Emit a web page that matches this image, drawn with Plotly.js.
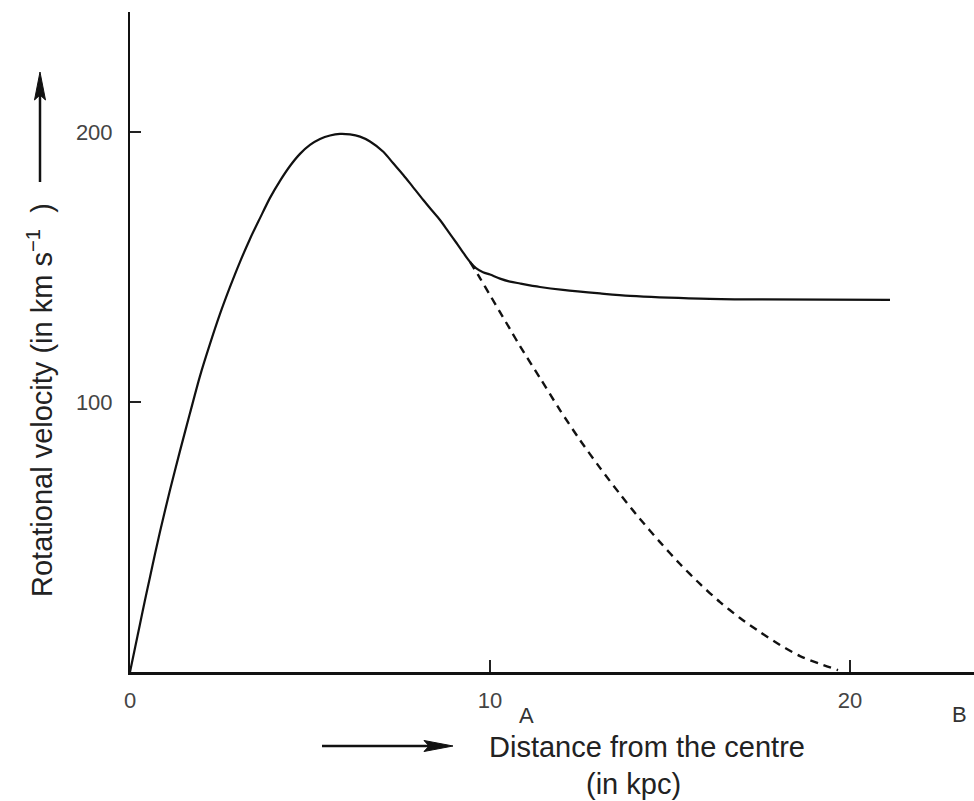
<!DOCTYPE html>
<html>
<head>
<meta charset="utf-8">
<script src="https://cdn.plot.ly/plotly-3.0.1.min.js"></script>
<style>html,body{margin:0;padding:0;background:#fff;}#chart{width:974px;height:801px;}</style>
</head>
<body>
<div id="chart"></div>
<script>
// Observed rotation curve (solid): distance (kpc), velocity (km/s)
const observedR = [0, 0.139, 0.278, 0.417, 0.556, 0.694, 0.833, 1.111, 1.389, 1.667, 1.944, 2.222, 2.5, 2.778, 3.056, 3.333, 3.611, 3.889, 4.167, 4.444, 4.722, 5.0, 5.278, 5.556, 5.833, 6.111, 6.389, 6.667, 7.036, 7.306, 7.592, 7.861, 8.147, 8.389, 8.611, 8.833, 9.075, 9.25, 9.444, 9.611, 9.806, 10.0, 10.278, 10.556, 10.833, 11.389, 12.028, 13.056, 13.889, 15.833, 17.222, 21.111];
const observedV = [0, 8.9, 17.8, 26.7, 35.2, 43.7, 51.9, 67.4, 81.9, 95.9, 109.6, 121.5, 132.6, 142.6, 151.9, 160.4, 168.1, 175.6, 181.9, 187.4, 191.9, 195.2, 197.4, 198.7, 199.3, 199.1, 198.3, 196.5, 192.7, 188.5, 184.1, 179.6, 174.8, 170.9, 167.4, 163.3, 158.8, 155.4, 151.9, 149.6, 148.1, 147.2, 145.7, 144.6, 143.9, 142.6, 141.5, 140.2, 139.3, 138.3, 138.0, 137.8];
// Expected (Keplerian) decline (dashed)
const expectedR = [9.444, 9.722, 10.0, 10.278, 10.556, 10.833, 11.389, 11.944, 12.5, 13.056, 13.611, 14.167, 14.722, 15.278, 15.833, 16.389, 16.944, 17.5, 18.056, 18.611, 19.167, 19.667];
const expectedV = [151.9, 145.9, 139.6, 133.3, 127.0, 120.7, 108.9, 97.0, 85.9, 75.6, 65.9, 56.7, 48.1, 40.0, 32.6, 25.9, 20.0, 14.8, 10.0, 5.9, 3.0, 0.7];
// Axis ticks
const xTicks = [0, 10, 20];
const xTickText = ["0", "10", "20"];
const yTicks = [100, 200];
const yTickText = ["100", "200"];

const FONT = "Liberation Sans, Arial, Helvetica, sans-serif";
const L = 130, T = 12, W = 844, H = 660;
const px = x => (x - L) / W;
const py = y => (T + H - y) / H;
const pt = (x, y) => px(x).toFixed(5) + ',' + py(y).toFixed(5);

const traces = [
  {x: observedR, y: observedV, type: 'scatter', mode: 'lines',
   line: {color: '#111', width: 2.2, shape: 'spline', smoothing: 0.8}, hoverinfo: 'skip'},
  {x: expectedR, y: expectedV, type: 'scatter', mode: 'lines',
   line: {color: '#111', width: 2.4, dash: '8px,6px', shape: 'spline', smoothing: 0.8}, hoverinfo: 'skip'}
];

const layout = {
  width: 974, height: 801,
  margin: {l: L, r: 0, t: T, b: 801 - T - H, pad: 0},
  paper_bgcolor: '#fff', plot_bgcolor: '#fff',
  showlegend: false,
  font: {family: FONT, color: '#333', size: 22},
  xaxis: {
    range: [0, 844/36], autorange: false,
    tickvals: xTicks, ticktext: xTickText,
    ticks: 'inside', ticklen: 12, tickwidth: 1.5, tickcolor: '#222',
    showline: true, linecolor: '#111', linewidth: 2.5,
    showgrid: false, zeroline: false,
    tickfont: {size: 22, color: '#444', family: FONT},
    ticklabelstandoff: 7
  },
  yaxis: {
    range: [0, 660/2.7], autorange: false,
    tickvals: yTicks, ticktext: yTickText,
    ticks: 'inside', ticklen: 11, tickwidth: 1.5, tickcolor: '#222',
    showline: true, linecolor: '#111', linewidth: 2,
    showgrid: false, zeroline: false,
    tickfont: {size: 22, color: '#444', family: FONT},
    ticklabelstandoff: 11
  },
  shapes: [
    // vertical arrow beside y title
    {type: 'line', xref: 'paper', yref: 'paper', x0: px(40), y0: py(182), x1: px(40), y1: py(92),
     line: {color: '#111', width: 2.5}},
    {type: 'path', xref: 'paper', yref: 'paper',
     path: 'M' + pt(40, 72) + ' L' + pt(34.5, 100) + ' L' + pt(40, 95) + ' L' + pt(45.5, 100) + ' Z',
     fillcolor: '#111', line: {color: '#111', width: 1}},
    // horizontal arrow beside x title
    {type: 'line', xref: 'paper', yref: 'paper', x0: px(322), y0: py(746), x1: px(432), y1: py(746),
     line: {color: '#111', width: 2.5}},
    {type: 'path', xref: 'paper', yref: 'paper',
     path: 'M' + pt(453, 746) + ' L' + pt(424, 740.5) + ' L' + pt(429, 746) + ' L' + pt(424, 751.5) + ' Z',
     fillcolor: '#111', line: {color: '#111', width: 1}}
  ],
  annotations: [
    {xref: 'paper', yref: 'paper', x: px(40), y: py(400), text: 'Rotational velocity (in km s<sup>−1</sup>  )',
     textangle: -90, showarrow: false, xanchor: 'center', yanchor: 'middle',
     font: {size: 29, color: '#222', family: FONT}},
    {xref: 'paper', yref: 'paper', x: px(647), y: py(747), text: 'Distance from the centre',
     showarrow: false, xanchor: 'center', yanchor: 'middle', font: {size: 29, color: '#222', family: FONT}},
    {xref: 'paper', yref: 'paper', x: px(633), y: py(784), text: '(in kpc)',
     showarrow: false, xanchor: 'center', yanchor: 'middle', font: {size: 29, color: '#222', family: FONT}},
    {xref: 'paper', yref: 'paper', x: px(526), y: py(715), text: 'A',
     showarrow: false, xanchor: 'center', yanchor: 'middle', font: {size: 22, color: '#333', family: FONT}},
    {xref: 'paper', yref: 'paper', x: px(959), y: py(714), text: 'B',
     showarrow: false, xanchor: 'center', yanchor: 'middle', font: {size: 22, color: '#333', family: FONT}}
  ]
};

Plotly.newPlot('chart', traces, layout, {displayModeBar: false, staticPlot: true});
</script>
</body>
</html>
